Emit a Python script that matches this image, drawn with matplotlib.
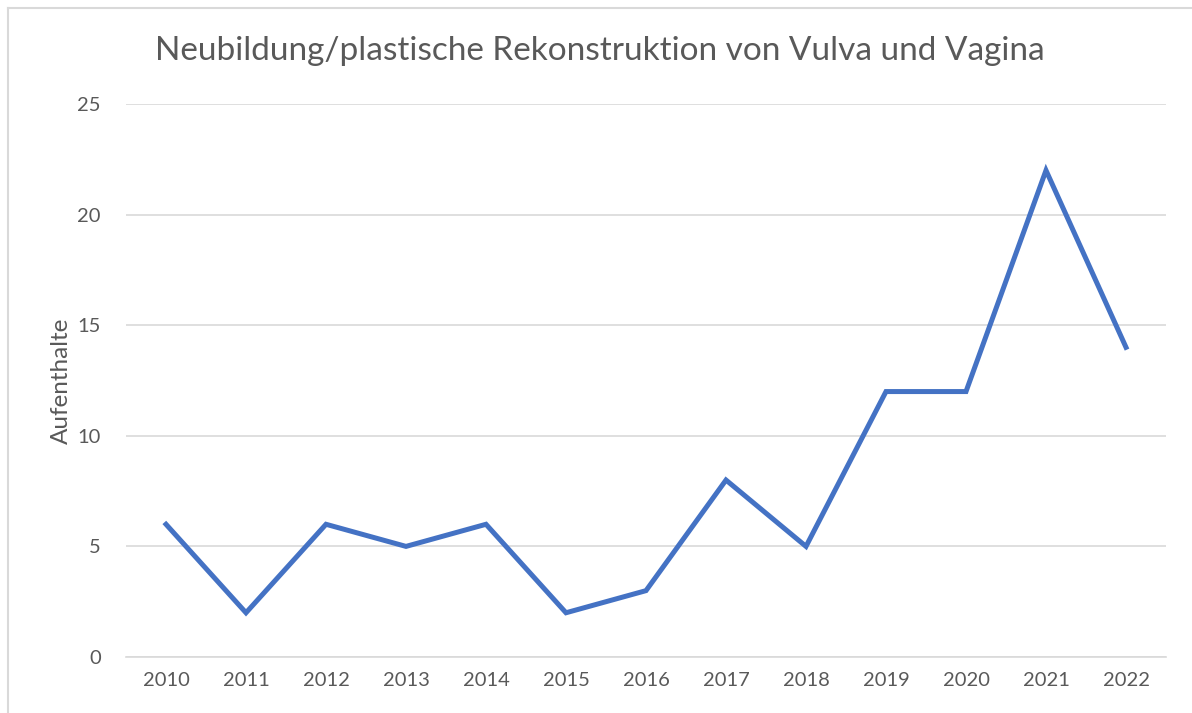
import matplotlib
matplotlib.use("Agg")
import matplotlib.pyplot as plt
from matplotlib.lines import Line2D

years = ["2010", "2011", "2012", "2013", "2014", "2015", "2016", "2017", "2018", "2019", "2020", "2021", "2022"]
values = [6, 2, 6, 5, 6, 2, 3, 8, 5, 12, 12, 22, 14]
y_ticks = [0, 5, 10, 15, 20, 25]

plt.rcParams['font.family'] = ['Lato', 'DejaVu Sans']

W, H = 1192, 713
fig = plt.figure(figsize=(W / 100, H / 100), dpi=100)
ax = fig.add_axes([126 / W, 1 - 657 / H, (1166 - 126) / W, (657 - 104) / H])

x = list(range(len(years)))
ax.plot(x, values, color="#4472C4", linewidth=3.6, solid_joinstyle="miter")
ax.set_xlim(-0.5, len(years) - 0.5)
ax.set_ylim(0, 25)
ax.set_yticks(y_ticks)
ax.set_xticks(x)
ax.set_xticklabels(years)
ax.grid(axis="y", color="#D9D9D9", linewidth=1.2)
ax.set_axisbelow(True)
for s in ["top", "right", "left"]:
    ax.spines[s].set_visible(False)
ax.spines["bottom"].set_color("#D9D9D9")
ax.spines["bottom"].set_linewidth(1.2)
ax.tick_params(axis="both", length=0, labelsize=14.5, labelcolor="#595959")
ax.tick_params(axis="y", pad=18)
ax.tick_params(axis="x", pad=11)
ax.set_ylabel("Aufenthalte", fontsize=17.5, color="#595959")
ax.yaxis.set_label_coords((72 - 126) / (1166 - 126), 0.5)

fig.text(600 / W, 1 - 51 / H, "Neubildung/plastische Rekonstruktion von Vulva und Vagina",
         ha="center", va="center", fontsize=24, color="#595959")

# partial frame (left and top)
fig.add_artist(Line2D([8 / W, 8 / W], [0, 1 - 8 / H], color="#D9D9D9", linewidth=1.5, transform=fig.transFigure))
fig.add_artist(Line2D([8 / W, 1], [1 - 8 / H, 1 - 8 / H], color="#D9D9D9", linewidth=1.5, transform=fig.transFigure))

fig.savefig("out.png", dpi=100)
